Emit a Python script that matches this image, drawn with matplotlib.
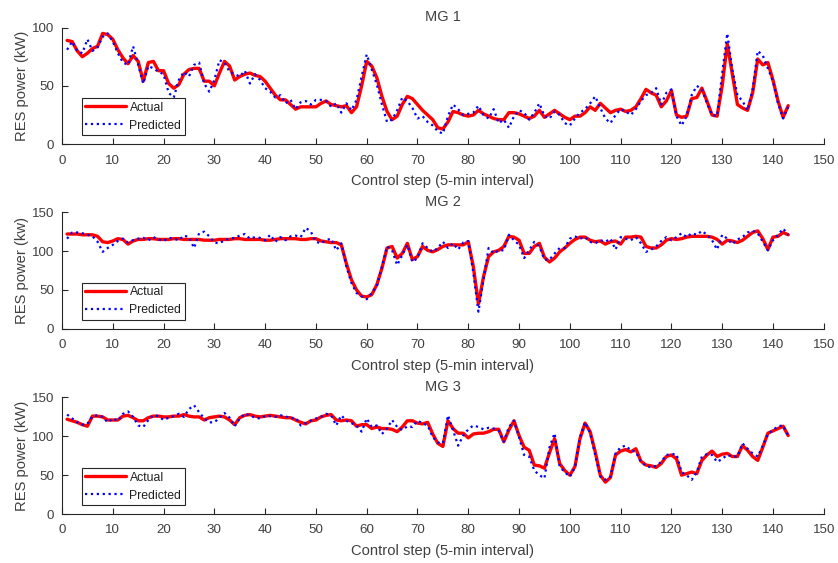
import matplotlib
matplotlib.use("Agg")
import matplotlib.pyplot as plt
import numpy as np

plt.rcParams['font.family'] = ['Liberation Sans', 'DejaVu Sans']

steps = list(range(1, 144))

mg1_actual = [89,88,80,75,78,82,84,95,94,90,
              81,74,69,76,71,54,70,71,63,63,
              52,48,51,60,64,65,65,54,54,50,
              61,71,67,55,58,60,61,59,58,54,
              48,42,38,38,34,30,32,32,32,32,
              35,37,34,33,32,33,27,32,50,71,
              67,57,41,28,21,24,34,41,39,34,
              29,25,21,14,13,19,28,27,25,24,
              25,29,26,24,22,21,21,27,27,26,
              24,22,24,29,23,26,29,26,23,21,
              24,24,27,32,29,35,31,27,29,30,
              28,29,32,39,47,44,42,32,37,46,
              25,23,24,39,40,48,37,25,24,50,
              86,60,34,31,29,44,73,68,70,55,37,23,33]
mg1_pred = [81,88,80,78,90,80,83,92,95,88,
            78,70,68,84,68,52,67,65,62,60,
            44,40,55,62,58,68,70,52,45,55,
            72,70,62,60,58,63,52,60,55,48,
            45,40,42,35,38,30,36,37,34,38,
            38,37,32,35,27,35,29,38,58,77,
            64,51,34,19,21,29,40,37,31,22,
            24,19,16,11,9,24,34,30,25,26,
            27,33,25,22,30,18,21,14,24,29,
            27,21,27,35,24,22,28,25,18,16,
            22,27,30,35,41,31,22,18,25,30,
            28,25,30,37,42,44,48,34,44,47,
            24,16,24,42,50,47,35,25,24,61,
            95,64,42,37,29,47,80,76,65,54,35,22,32]

mg2_actual = [122,122,122,121,121,121,119,112,111,113,
              116,115,109,113,
              115,115,116,116,115,115,115,116,116,115,
              115,115,115,114,114,114,115,115,115,116,
              116,115,115,115,115,114,114,115,116,116,
              116,116,115,115,116,116,113,112,
              111,111,108,84,63,50,42,41,44,57,
              78,104,106,91,97,110,89,93,106,101,
              99,102,106,108,108,108,108,112,80,32,
              67,93,99,101,106,119,118,114,97,97,
              106,110,92,86,91,99,104,110,115,118,
              118,114,112,113,109,112,113,109,118,118,
              119,118,106,104,104,108,114,116,115,116,
              118,119,119,119,119,118,115,109,114,113,
              111,114,119,124,126,116,102,118,119,124,121]
mg2_pred = [116,124,124,123,121,119,112,99,104,108,
            113,116,111,114,
            116,117,114,118,115,113,117,116,114,120,
            118,104,123,125,119,111,110,114,116,117,
            120,122,116,118,117,114,121,112,118,114,
            119,120,118,130,125,112,110,114,
            116,101,110,80,59,46,42,38,46,55,
            80,106,101,82,95,108,86,91,110,104,
            99,104,112,104,110,102,111,113,72,22,
            63,104,97,101,101,121,114,108,91,101,
            112,106,89,89,97,104,104,116,119,116,
            118,112,110,114,112,116,102,118,116,114,
            118,110,99,102,106,113,118,114,118,123,
            118,123,121,126,121,114,102,121,116,109,
            115,118,124,126,123,112,101,114,121,129,121]

mg3_actual = [122,120,118,115,113,126,126,125,121,121,
              121,126,127,124,120,120,124,126,126,125,
              125,126,126,128,126,125,125,121,124,125,
              126,125,121,115,124,127,128,126,125,126,
              127,126,125,124,124,121,118,116,120,121,
              125,127,128,121,120,121,120,113,115,115,
              110,112,110,110,109,106,112,120,120,117,
              116,118,103,91,87,120,110,104,104,98,
              103,104,104,106,109,109,93,108,120,101,
              86,82,63,62,59,79,97,65,56,50,
              61,97,117,106,80,50,41,47,76,81,
              83,80,84,68,63,62,60,65,74,76,
              71,50,52,54,52,69,76,81,74,77,
              78,74,74,88,82,74,69,86,104,107,110,113,101]
mg3_pred = [128,123,118,115,116,126,127,125,118,123,
            120,129,132,125,114,112,121,127,126,121,
            124,126,129,125,135,140,131,123,118,118,
            124,130,124,113,123,129,127,124,123,126,
            126,125,127,126,123,124,114,117,120,123,
            125,129,127,114,127,120,117,114,106,123,
            112,114,103,110,121,112,108,113,112,120,
            117,114,99,92,91,127,108,88,101,109,
            114,112,109,111,110,107,93,112,120,99,
            76,74,56,50,46,86,104,61,54,48,
            60,99,118,104,76,48,44,48,78,86,
            88,82,80,67,62,60,62,67,76,77,
            77,54,50,44,54,74,77,76,67,71,
            76,74,74,91,84,78,74,88,103,108,113,114,101]

panels = [("MG 1", mg1_actual, mg1_pred, "RES power (kW)", 100, [0, 50, 100]),
          ("MG 2", mg2_actual, mg2_pred, "RES power (kw)", 150, [0, 50, 100, 150]),
          ("MG 3", mg3_actual, mg3_pred, "RES power (kW)", 150, [0, 50, 100, 150])]

fig = plt.figure(figsize=(8.38, 5.63), dpi=100)
gray = '#262626'
txt = '#404040'
L, W = 0.074, 0.909
bottoms = [0.744, 0.416, 0.087]
H = 0.207

for (title, act, pred, ylab, ymax, yt), b in zip(panels, bottoms):
    ax = fig.add_axes([L, b, W, H])
    ax.plot(steps, act, color='red', lw=2.4, label='Actual', solid_capstyle='round',
            solid_joinstyle='round')
    ax.plot(steps, pred, color='blue', lw=1.6, ls=':', label='Predicted')
    ax.set_xlim(0, 150)
    ax.set_ylim(0, ymax)
    ax.set_xticks(np.arange(0, 151, 10))
    ax.set_yticks(yt)
    for s in ['top', 'right']:
        ax.spines[s].set_visible(False)
    for s in ['left', 'bottom']:
        ax.spines[s].set_color(gray)
        ax.spines[s].set_linewidth(0.8)
    ax.tick_params(direction='in', length=4.5, width=0.8, colors=gray,
                   labelsize=9.6, labelcolor=txt)
    ax.tick_params(axis='x', pad=7.5)
    ax.tick_params(axis='y', pad=5.5)
    ax.set_title(title, fontsize=10.5, color=txt, pad=4.5)
    ax.set_xlabel("Control step (5-min interval)", fontsize=10.6, color=txt, labelpad=5.5)
    ax.set_ylabel(ylab, fontsize=10.6, color=txt, labelpad=2)
    leg = ax.legend(loc='lower left', bbox_to_anchor=(0.026, 0.075), fontsize=8.8,
                    handlelength=3.3, fancybox=False, framealpha=1,
                    edgecolor=gray, borderaxespad=0, handletextpad=0.3,
                    labelspacing=0.5, borderpad=0.3)
    leg.get_frame().set_linewidth(0.8)
    for t in leg.get_texts():
        t.set_color('#202020')

fig.savefig("out.png", dpi=100)
